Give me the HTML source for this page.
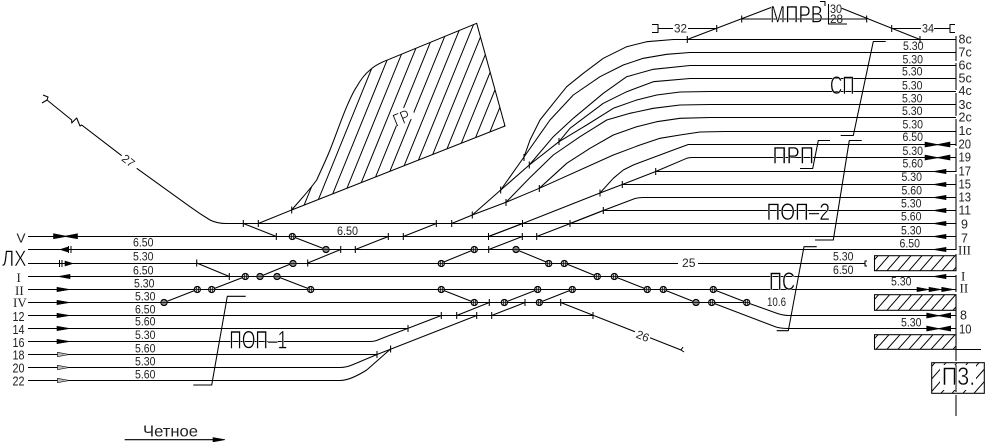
<!DOCTYPE html>
<html><head><meta charset="utf-8"><style>
html,body{margin:0;padding:0;background:#fff}
svg{display:block}
text{font-family:"Liberation Sans","DejaVu Sans",sans-serif;fill:#222}
.n{font-size:11.5px}
.r{font-size:12.5px}
.s{font-family:"Liberation Serif",serif;font-size:13px}
.b{fill:#000;stroke:#fff;stroke-width:.5px}
</style></head><body>
<svg xmlns="http://www.w3.org/2000/svg" width="985" height="442" viewBox="0 0 985 442">
<defs>
<clipPath id="gr"><path d="M291.7 210C300 200 308 192 316.7 180C322 168 326 160 330 150C336 135 341 120 346.7 106.7C350 99 353 92 356.7 86.7C361 79 365 74 370 70C374 66 378 64 383.3 61.7L476.7 23.3L505 126Z"/></clipPath>
<clipPath id="bx"><rect x="874.5" y="255.7" width="81.5" height="15"/><rect x="874.5" y="294.7" width="81.5" height="15.6"/><rect x="874.5" y="334.7" width="81.5" height="14.6"/><rect x="931.7" y="362.7" width="52.6" height="30.6"/></clipPath>
<g id="c"><circle r="3.1" fill="#e8e8e8" stroke="#000" stroke-width="1.1"/><path d="M-3.2 0H3.2M-1 -3V3M1 -3V3" stroke="#000" stroke-width=".8" fill="none"/></g>
</defs>

<!-- GR hatch -->
<path clip-path="url(#gr)" fill="none" stroke="#000" stroke-width="1" d="M234 230l85.4-210M246 230l85.4-210M258 230l85.4-210M270 230l85.4-210M282 230l85.4-210M294 230l85.4-210M306 230l85.4-210M318 230l85.4-210M330 230l85.4-210M342 230l85.4-210M354 230l85.4-210M366 230l85.4-210M378 230l85.4-210M390 230l85.4-210M402 230l85.4-210M414 230l85.4-210M426 230l85.4-210M438 230l85.4-210M450 230l85.4-210M462 230l85.4-210M474 230l85.4-210M486 230l85.4-210M498 230l85.4-210"/>
<path d="M258.3 223.5L291.7 210C300 200 308 192 316.7 180C322 168 326 160 330 150C336 135 341 120 346.7 106.7C350 99 353 92 356.7 86.7C361 79 365 74 370 70C374 66 378 64 383.3 61.7L476.7 23.3L505 126L291.7 210" fill="none" stroke="#000" stroke-width="1.05"/>
<rect x="-9" y="-9" width="21" height="13" fill="#fff" transform="translate(403 118) rotate(-22)"/>

<!-- main lines -->
<g fill="none" stroke="#000" stroke-width="1.05" stroke-linejoin="round">
<path d="M225 223.5H956M28 236.5H956M28 249.5H956M28 263.5H678M698 263.5H865M28 276.5H956M28 289.5H956M28 302.5H747M28 315.5H593M788 315.5H956M28 328.5H408M788 328.5H956M688 39.5H956M690 52.5H956M690 65.5H956M690 78.5H956M710 91.5H956M710 104.5H956M710 117.5H956M725 131.5H956M688 144.5H956M692 157.5H956M655.7 171.5H956M622.3 184.5H956M643 197.5H956M603.3 210.5H956"/>
<path d="M28 341.5H370Q375 341.5 379 339.5L441.3 315.5M456.7 315.5L489.3 302.5M491.7 315.5L525 302.5M28 354.5H377L476.7 315.5M28 367.5H340Q346 367.5 352 365L377 354.5M28 380.5H340Q350 380.5 366.7 370Q378 360 390.6 349"/>
<path d="M560.7 302.5L635 331.8M650 337.8L681 350M196.7 263L229.3 276.5M243.3 223.5L276.3 236.5M164 302.5L197.3 289.5M211.7 289.5L245.3 276.5M260 276.5L293 263M277 276.5L310.7 289.5M292.3 236.5L326 249.5M307.7 263L340.7 249.5M355.3 249.5L388.3 236.5M403.3 236.5L436.3 223.5M488.7 236.5L522.3 223.5M488.7 249.5L522.3 236.5M536.7 236.5L570.3 223.5L603.3 210.5M441.3 263L474.3 249.5M516 249.5L548.7 263M564.3 263L597.3 276.5M614.3 276.5L647.3 289.5M441.3 289.5L474.3 302.5M504.3 302.5L537.7 289.5M539.3 302.5L572.3 289.5M663.3 289.5L696 302.5"/>
<path d="M711.7 302.5L776 327Q781 328.5 788 328.5M713.3 289.5L746.7 302.5L776 313Q781 315 788 315.5"/>
<!-- ladder -->
<path d="M451.7 223.5L472.3 215L506 202.3L539.3 188.3L613.3 155L640 145L660 138.3L680 135L700 132L725 131.5"/>
<path d="M472.3 215L500.7 190L524 157L530 140L540 120L553.3 103.3L566.7 86.7L583.3 73.3L603.3 58.3L626.7 46.7L646.7 41.7L673.3 39.5H688"/>
<path d="M524 157L550 120L573.3 95L600 76.7L623.3 65L643.3 58.3L666.7 54.3L690 52.5"/>
<path d="M500.7 190L529.3 165L553.3 136.7L573.3 118.3L603.3 93.3L626.7 76.7L653.3 69.3L690 65.5"/>
<path d="M529.3 165L559 141.7L570 128.3L603.3 103.3L626.7 91.7L653.3 81.7L690 78.5"/>
<path d="M559 141.7L586.7 125L613.3 108.3L636.7 100L656.7 95L680 92L710 91.5"/>
<path d="M506 202.3L529.3 178.3L553.3 155L580 136.7L606.7 120L630 113.3L653.3 108.3L680 105L710 104.5"/>
<path d="M539.3 188.3L566.7 163.3L590 148.3L613.3 135L636.7 126.7L656.7 121.7L680 118.3L710 117.5"/>
<path d="M488.3 236.5L522.7 223.5L600 193L622.3 184.5L655.7 171.5L686.7 158.3Q689 157.5 692 157.5"/>
<path d="M600 193L613.3 178.3L623.3 170L633.3 165L673.3 150L688.3 144.5"/>
<path d="M570 223.5L603.3 210.5L635 198.5Q639 197.5 643 197.5"/>
<!-- line 27 -->
<path d="M43 95L48 97L47 100L42 103M47 100L71.7 120L71.7 123L76.7 118L80 126L81.7 125L121.7 155.7M136.7 168.3L190 206.7Q200 214 210 220Q217 223.5 226 223.5"/>
<!-- top -->
<path d="M652 24.5H658V32.5H652M658 28.5H673M688 28.5H716.7M687.3 39.5L771 7.5M741.7 19H866.7M841.7 8.3L920 39.5M891.7 28.5H921M934 28.5H950M955 24.5H950V32.5H955M820 1.5H825V6M828.5 4V24H847"/>
<!-- leaders -->
<path d="M885.7 41.5H873.3L853.3 135.5H840.7M830 140.5H818.3L812.7 168.5H800M861.7 140.5H849.3L833.3 240H815M816.7 246.7H804L788.3 330.7H776.7M245.7 296.3H227.3L211.7 385H193.3"/>
<!-- right vertical -->
<path d="M956 36V61M956 63V90M956 93V116M956 119V146M956 148V172M956 174V250M956 254V271M956 275V292M956 296V344M956 346V361M956 365V392M956 395V416"/>
<!-- c end -->
<path d="M867 261H865V266H867M683 347L681 350L684 352"/>
<path d="M956 349.5H981"/>
<!-- ticks -->
<path d="M196.7 259.5v7M229.3 273v7M243.3 220v7M258.3 220v7M276.3 233v7M291.7 206.5v7M307.7 259.5v7M340.7 246v7M355.3 246v7M388.3 233v7M403.3 233v7M436.3 220v7M451.7 220v7M472.3 211.5v7M488.5 233v7M488.7 246v7M522.5 220v7M522.3 233v7M536.7 233v7M570 220v7M603.3 207v7M441.3 312v7M456.7 312v7M476.7 312v7M491.7 312v7M489.3 299v7M525 299v7M560.7 299v7M593 312v7M408 325v7M377 351v7M390.6 345.5v7M500.7 186.5v7M506 199v7M539.3 185v7M524 154v7M529.3 161.5v7M559 138v7M600 189.5v7M622.3 181v7M655.7 168v7M687.3 36v7M716.7 25v7M741.7 15.5v7M866.7 15.5v7M891.7 25v7M920 36v7"/>
<!-- Arrow line -->
<path d="M124.7 439.7H214"/>
</g>

<!-- hatched boxes -->
<path clip-path="url(#bx)" fill="none" stroke="#000" stroke-width="1" d="M865 270.7l13-15M876 270.7l13-15M887 270.7l13-15M898 270.7l13-15M909 270.7l13-15M920 270.7l13-15M931 270.7l13-15M942 270.7l13-15M953 270.7l13-15M865 310.3l13.6-15.6M876 310.3l13.6-15.6M887 310.3l13.6-15.6M898 310.3l13.6-15.6M909 310.3l13.6-15.6M920 310.3l13.6-15.6M931 310.3l13.6-15.6M942 310.3l13.6-15.6M953 310.3l13.6-15.6M865 349.3l13-14.6M876 349.3l13-14.6M887 349.3l13-14.6M898 349.3l13-14.6M909 349.3l13-14.6M920 349.3l13-14.6M931 349.3l13-14.6M942 349.3l13-14.6M953 349.3l13-14.6M908 393.3l27-30.6M919 393.3l27-30.6M930 393.3l27-30.6M941 393.3l27-30.6M952 393.3l27-30.6M963 393.3l27-30.6M974 393.3l27-30.6"/>
<g stroke="#000" stroke-width="1.05" fill="none">
<rect x="874.5" y="255.7" width="81.5" height="15"/>
<rect x="874.5" y="294.7" width="81.5" height="15.6"/>
<rect x="874.5" y="334.7" width="81.5" height="14.6"/>
<rect x="931.7" y="362.7" width="52.6" height="30.6"/>
</g>
<rect x="940" y="365" width="36" height="25" fill="#fff"/>
<path d="M956 365V392" stroke="#000" stroke-width="1"/>

<!-- switches -->
<g>
<use href="#c" x="164" y="302.5"/><use href="#c" x="197.3" y="289.5"/><use href="#c" x="211.7" y="289.5"/><use href="#c" x="245.3" y="276.5"/><use href="#c" x="260" y="276.5"/><use href="#c" x="277" y="276.5"/><use href="#c" x="310.7" y="289.5"/><use href="#c" x="293" y="263.5"/><use href="#c" x="292.3" y="236.5"/><use href="#c" x="326" y="249.5"/>
<use href="#c" x="441.3" y="263.5"/><use href="#c" x="474.3" y="249.5"/><use href="#c" x="516" y="249.5"/><use href="#c" x="548.7" y="263.5"/><use href="#c" x="564.3" y="263.5"/><use href="#c" x="597.3" y="276.5"/><use href="#c" x="614.3" y="276.5"/><use href="#c" x="647.3" y="289.5"/><use href="#c" x="441.3" y="289.5"/><use href="#c" x="474.3" y="302.5"/><use href="#c" x="504.3" y="302.5"/><use href="#c" x="537.7" y="289.5"/><use href="#c" x="539.3" y="302.5"/><use href="#c" x="572.3" y="289.5"/><use href="#c" x="663.3" y="289.5"/><use href="#c" x="696" y="302.5"/><use href="#c" x="711.7" y="302.5"/><use href="#c" x="713.3" y="289.5"/><use href="#c" x="746.7" y="302.5"/>
</g>

<!-- arrows -->
<g fill="#000" stroke="#000" stroke-width=".6">
<path d="M53.5 233.7L65.5 236L77.5 233.7V238.8L65.5 236.6L53.5 238.8Z"/>
<path d="M60 249.5l8-2.5v5z"/><path d="M68.5 246v7M71 246v7M59.5 260v7M62 260v7" stroke-width="1"/>
<path d="M73 263.5l-8-2.5v5z"/><path d="M58 276.5l12-2.2v4.4z"/>
<path d="M57 287.3l13 2.2-13 2.2zM57 300.3l13 2.2-13 2.2zM57 313.3l13 2.2-13 2.2zM57 326.3l13 2.2-13 2.2zM57 339.3l13 2.2-13 2.2z"/>
<path d="M57.5 352.3l12 2.2-12 2.2zM57.5 365.3l12 2.2-12 2.2zM57.5 378.3l12 2.2-12 2.2z" fill="#bbb"/>
<path d="M213 437.5l12 2.2-12 2.2z"/>
<path d="M933 171.5l13-2.2v4.4zM933 184.5l13-2.2v4.4zM933 197.5l13-2.2v4.4zM933 210.5l13-2.2v4.4zM933 223.5l13-2.2v4.4zM933 236.5l13-2.2v4.4zM933 249.5l13-2.2v4.4zM933 276.5l13-2.2v4.4z"/>
<path d="M917 287.3l12 2.2-12 2.2zM929 287.3l12.7 2.2-12.7 2.2zM941.7 287.3l12.3 2.2-12.3 2.2z"/>
<path d="M925 142l12.5 2.5L950 142v5l-12.5-2.2L925 147zM925 155l12.5 2.5L950 155v5l-12.5-2.2L925 160zM926.7 313l12 2.5L950.7 313v5l-12-2.2L926.7 318zM926.7 326l12 2.5L950.7 326v5l-12-2.2L926.7 331z"/>
</g>

<!-- left row labels -->
<text class="r" x="16.5" y="242.7" textLength="9" lengthAdjust="spacingAndGlyphs">V</text>
<text class="b" x="2" y="266" font-size="22" textLength="24.5" lengthAdjust="spacingAndGlyphs">ЛХ</text>
<text class="s" x="16.5" y="282">I</text>
<text class="s" x="15" y="295">II</text>
<text class="s" x="13" y="307">IV</text>
<text class="r" x="12.5" y="321" textLength="12" lengthAdjust="spacingAndGlyphs">12</text>
<text class="r" x="12.5" y="334" textLength="12" lengthAdjust="spacingAndGlyphs">14</text>
<text class="r" x="12.5" y="347" textLength="12" lengthAdjust="spacingAndGlyphs">16</text>
<text class="r" x="12.5" y="359.5" textLength="12" lengthAdjust="spacingAndGlyphs">18</text>
<text class="r" x="12.5" y="372.5" textLength="12" lengthAdjust="spacingAndGlyphs">20</text>
<text class="r" x="12.5" y="385.5" textLength="12" lengthAdjust="spacingAndGlyphs">22</text>

<!-- left values -->
<text class="n" x="133" y="246.7" textLength="20.5" lengthAdjust="spacingAndGlyphs">6.50</text>
<text class="n" x="133" y="260.7" textLength="20.5" lengthAdjust="spacingAndGlyphs">5.30</text>
<text class="n" x="133" y="274.7" textLength="20.5" lengthAdjust="spacingAndGlyphs">6.50</text>
<text class="n" x="134" y="287.7" textLength="20.5" lengthAdjust="spacingAndGlyphs">5.30</text>
<text class="n" x="135" y="300.7" textLength="20.5" lengthAdjust="spacingAndGlyphs">5.30</text>
<text class="n" x="135" y="313.3" textLength="20.5" lengthAdjust="spacingAndGlyphs">6.50</text>
<text class="n" x="135" y="325.7" textLength="20.5" lengthAdjust="spacingAndGlyphs">5.60</text>
<text class="n" x="135" y="339" textLength="20.5" lengthAdjust="spacingAndGlyphs">5.30</text>
<text class="n" x="135" y="352.3" textLength="20.5" lengthAdjust="spacingAndGlyphs">5.60</text>
<text class="n" x="135" y="365.7" textLength="20.5" lengthAdjust="spacingAndGlyphs">5.30</text>
<text class="n" x="135" y="378.7" textLength="20.5" lengthAdjust="spacingAndGlyphs">5.60</text>
<text class="n" x="337" y="235" textLength="21" lengthAdjust="spacingAndGlyphs">6.50</text>
<text class="n" x="682" y="267" textLength="13.5" lengthAdjust="spacingAndGlyphs">25</text>
<text class="n" x="767" y="306" textLength="19" lengthAdjust="spacingAndGlyphs">10.6</text>
<text class="n" x="0" y="0" transform="translate(635.2 337.3) rotate(22)" textLength="13" lengthAdjust="spacingAndGlyphs">26</text>
<text class="n" x="0" y="0" transform="translate(120.7 159.9) rotate(38)" textLength="13" lengthAdjust="spacingAndGlyphs">27</text>
<text class="n" x="674" y="32.5" textLength="13" lengthAdjust="spacingAndGlyphs">32</text>
<text class="n" x="922" y="32.5" textLength="12" lengthAdjust="spacingAndGlyphs">34</text>
<text class="n" x="830" y="13" textLength="12" lengthAdjust="spacingAndGlyphs">30</text>
<text class="n" x="830" y="23" textLength="13" lengthAdjust="spacingAndGlyphs">28</text>

<!-- right values -->
<text class="n" x="903" y="50" textLength="20.5" lengthAdjust="spacingAndGlyphs">5.30</text>
<text class="n" x="902.5" y="63.3" textLength="20.5" lengthAdjust="spacingAndGlyphs">5.30</text>
<text class="n" x="902" y="75.5" textLength="20.5" lengthAdjust="spacingAndGlyphs">5.30</text>
<text class="n" x="902" y="89.3" textLength="20.5" lengthAdjust="spacingAndGlyphs">5.30</text>
<text class="n" x="902" y="102.3" textLength="20.5" lengthAdjust="spacingAndGlyphs">5.30</text>
<text class="n" x="902" y="115" textLength="20.5" lengthAdjust="spacingAndGlyphs">5.30</text>
<text class="n" x="902.5" y="128.7" textLength="20.5" lengthAdjust="spacingAndGlyphs">5.30</text>
<text class="n" x="902.5" y="141" textLength="20.5" lengthAdjust="spacingAndGlyphs">6.50</text>
<text class="n" x="902.5" y="155" textLength="20.5" lengthAdjust="spacingAndGlyphs">5.30</text>
<text class="n" x="902.5" y="167.7" textLength="20.5" lengthAdjust="spacingAndGlyphs">5.60</text>
<text class="n" x="901.5" y="181" textLength="20.5" lengthAdjust="spacingAndGlyphs">5.30</text>
<text class="n" x="901.5" y="194.3" textLength="20.5" lengthAdjust="spacingAndGlyphs">5.60</text>
<text class="n" x="901" y="207.3" textLength="20.5" lengthAdjust="spacingAndGlyphs">5.30</text>
<text class="n" x="901" y="220.7" textLength="20.5" lengthAdjust="spacingAndGlyphs">5.60</text>
<text class="n" x="901" y="234.3" textLength="20.5" lengthAdjust="spacingAndGlyphs">5.30</text>
<text class="n" x="899.5" y="247.3" textLength="20.5" lengthAdjust="spacingAndGlyphs">6.50</text>
<text class="n" x="833" y="260.7" textLength="20.5" lengthAdjust="spacingAndGlyphs">5.30</text>
<text class="n" x="833" y="274" textLength="20.5" lengthAdjust="spacingAndGlyphs">6.50</text>
<text class="n" x="891" y="285.7" textLength="20.5" lengthAdjust="spacingAndGlyphs">5.30</text>
<text class="n" x="901" y="326.7" textLength="20.5" lengthAdjust="spacingAndGlyphs">5.30</text>

<!-- right row labels -->
<text class="r" x="958.5" y="43.5">8c</text><text class="r" x="958.5" y="56.7">7c</text><text class="r" x="958.5" y="69.5">6c</text><text class="r" x="958.5" y="82.7">5c</text><text class="r" x="958.5" y="95.2">4c</text><text class="r" x="958.5" y="109">3c</text><text class="r" x="958.5" y="121.7">2c</text><text class="r" x="958.5" y="135">1c</text>
<text class="r" x="958.5" y="148.3" textLength="12.5" lengthAdjust="spacingAndGlyphs">20</text><text class="r" x="958.5" y="161.7" textLength="12.5" lengthAdjust="spacingAndGlyphs">19</text><text class="r" x="958.5" y="175.7" textLength="12.5" lengthAdjust="spacingAndGlyphs">17</text><text class="r" x="958.5" y="188.3" textLength="12.5" lengthAdjust="spacingAndGlyphs">15</text><text class="r" x="958.5" y="201.7" textLength="12.5" lengthAdjust="spacingAndGlyphs">13</text><text class="r" x="958.5" y="214.3" textLength="12.5" lengthAdjust="spacingAndGlyphs">11</text>
<text class="r" x="961" y="228.3">9</text><text class="r" x="961" y="242.3">7</text>
<text class="s" x="958" y="254.3">III</text><text class="s" x="961" y="280.5">I</text><text class="s" x="959.5" y="292.7">II</text>
<text class="r" x="960" y="319.5" font-size="14">8</text><text class="r" x="959" y="333.3" textLength="12.5" lengthAdjust="spacingAndGlyphs">10</text>

<!-- big labels -->
<text class="b" x="770" y="22.7" font-size="24" textLength="53" lengthAdjust="spacingAndGlyphs">МПРВ</text>
<text class="b" x="830" y="94" font-size="25" textLength="24.5" lengthAdjust="spacingAndGlyphs">СП</text>
<text class="b" x="772.5" y="163.3" font-size="24" textLength="41.5" lengthAdjust="spacingAndGlyphs">ПРП</text>
<text class="b" x="766.5" y="220" font-size="24" textLength="63.5" lengthAdjust="spacingAndGlyphs">ПОП–2</text>
<text class="b" x="769" y="290" font-size="25" textLength="26" lengthAdjust="spacingAndGlyphs">ПС</text>
<text class="b" x="229.3" y="348.3" font-size="25" textLength="58" lengthAdjust="spacingAndGlyphs">ПОП–1</text>
<text class="b" x="0" y="0" font-size="18" transform="translate(396 127) rotate(-22)" textLength="17" lengthAdjust="spacingAndGlyphs">ГР</text>
<text class="b" x="941.7" y="385" font-size="25" textLength="33.5" lengthAdjust="spacingAndGlyphs">П3.</text>
<text x="143" y="436.7" font-size="16" textLength="55" lengthAdjust="spacingAndGlyphs">Четное</text>
</svg>
</body></html>
